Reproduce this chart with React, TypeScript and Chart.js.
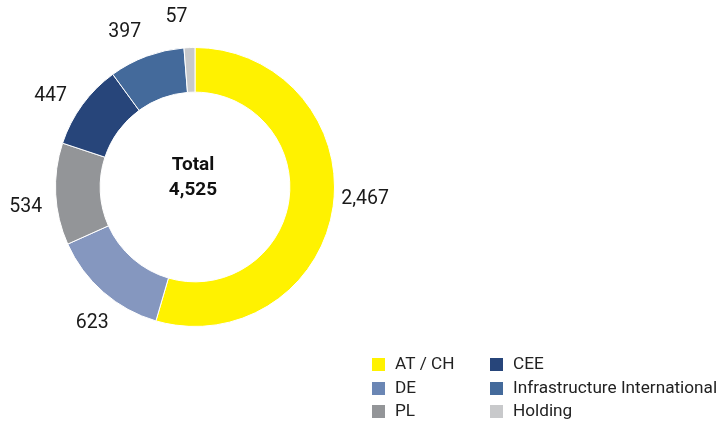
import React, { useEffect, useRef } from "react";
import { Chart, registerables } from "chart.js";

Chart.register(...registerables);

const categories = ["AT / CH", "DE", "PL", "CEE", "Infrastructure International", "Holding"];
const values = [2467, 623, 534, 447, 397, 57];
const valueLabels = ["2,467", "623", "534", "447", "397", "57"];
const totalLabel = "Total";
const totalValue = "4,525";

const sliceColors = ["#FFF200", "#8597BF", "#939598", "#27457A", "#446A9B", "#C8C9CB"];
const legendColors = ["#FFF200", "#6B86B4", "#939598", "#27457A", "#446A9B", "#C8C9CB"];

const FONT = "Roboto, 'Liberation Sans', sans-serif";

const overlayPlugin = {
  id: "overlay",
  afterDraw(chart: any) {
    const ctx = chart.ctx as CanvasRenderingContext2D;
    const meta = chart.getDatasetMeta(0);
    const arc0 = meta.data[0] as any;
    const cx = arc0.x;
    const cy = arc0.y;
    ctx.save();
    // center text
    ctx.fillStyle = "#111";
    ctx.textAlign = "center";
    ctx.textBaseline = "alphabetic";
    ctx.font = `bold 19px ${FONT}`;
    ctx.fillText(totalLabel, cx - 2, cy - 17);
    ctx.fillText(totalValue, cx - 2, cy + 8);

    // value labels
    ctx.font = `19.5px ${FONT}`;
    ctx.fillStyle = "#1a1a1a";
    ctx.textBaseline = "middle";
    ctx.textAlign = "center";
    meta.data.forEach((el: any, i: number) => {
      const mid = (el.startAngle + el.endAngle) / 2 - (4 * Math.PI) / 180;
      const R = el.outerRadius + 31;
      const x = cx + Math.cos(mid) * R;
      const y = cy + Math.sin(mid) * R;
      ctx.fillText(valueLabels[i], x, y);
    });

    // legend
    ctx.font = `17.2px ${FONT}`;
    ctx.textAlign = "left";
    ctx.textBaseline = "middle";
    const colX = [372, 490];
    const rowY = [364, 388, 411];
    categories.forEach((c, i) => {
      const col = Math.floor(i / 3);
      const row = i % 3;
      const x = colX[col];
      const y = rowY[row];
      ctx.fillStyle = legendColors[i];
      ctx.fillRect(x, y - 6, 13, 13);
      ctx.fillStyle = "#222";
      ctx.fillText(c, x + 23, y + 1);
    });
    ctx.restore();
  },
};

export default function App() {
  const ref = useRef<HTMLCanvasElement | null>(null);
  useEffect(() => {
    document.body.style.margin = "0";
    const canvas = ref.current!;
    const chart = new Chart(canvas, {
      type: "doughnut",
      data: {
        labels: categories,
        datasets: [
          {
            data: values,
            backgroundColor: sliceColors,
            borderColor: "#ffffff",
            borderWidth: 1,
          },
        ],
      },
      options: {
        animation: false,
        responsive: false,
        cutout: "68%",
        layout: { padding: { left: 55, right: 385, top: 47, bottom: 94 } },
        plugins: {
          legend: { display: false },
          tooltip: { enabled: false },
        },
      },
      plugins: [overlayPlugin],
    });
    return () => chart.destroy();
  }, []);
  return (
    <div style={{ width: 720, height: 421, background: "#fff" }}>
      <canvas ref={ref} width={720} height={421} />
    </div>
  );
}
